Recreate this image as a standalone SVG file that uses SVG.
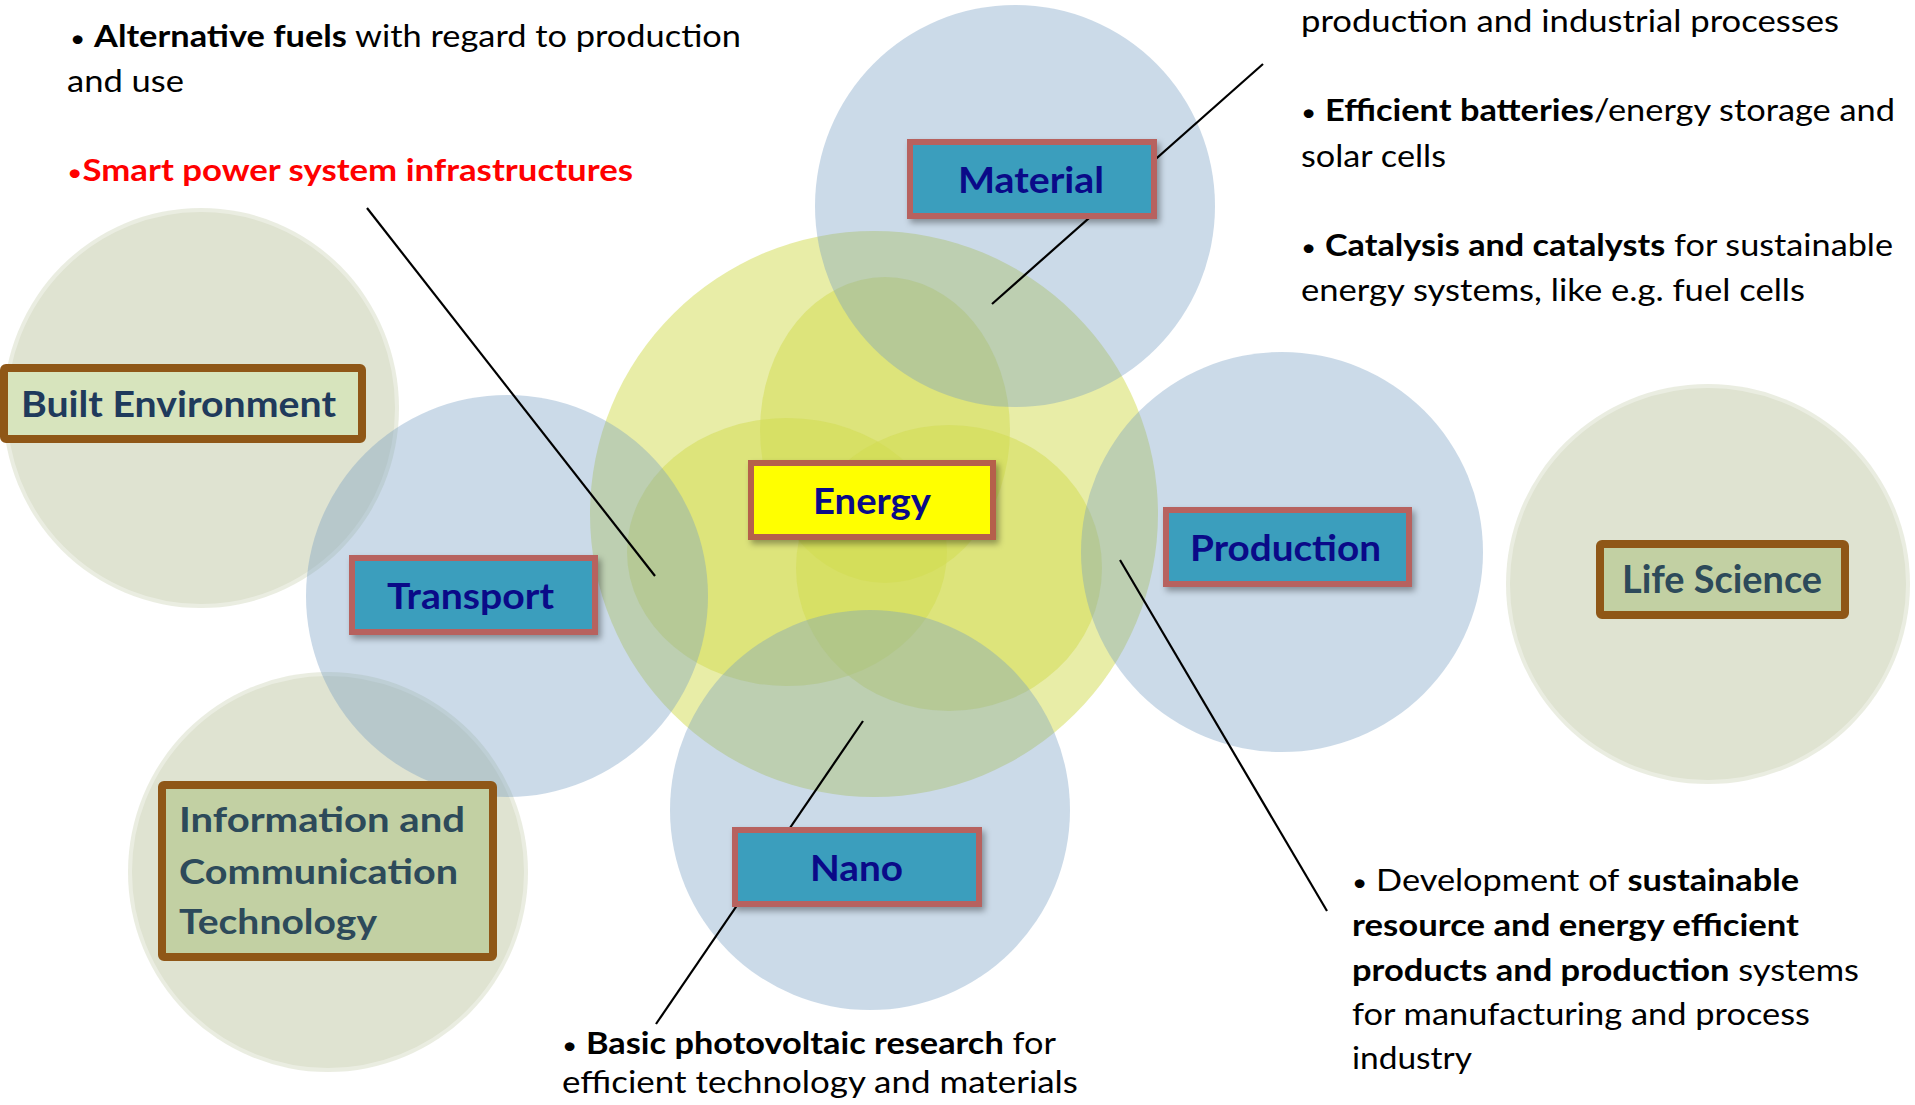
<svg xmlns="http://www.w3.org/2000/svg" width="1915" height="1105" viewBox="0 0 1915 1105">
<defs>
<style>
.green{fill:#afb98c;fill-opacity:0.4;stroke:#ffffff;stroke-opacity:0.35;stroke-width:8}
.blue{fill:#769ec2;fill-opacity:0.38}
.yellow{fill:#d1db4f;fill-opacity:0.5}
.bbox{fill:#3a9ebd;stroke:#b7625e;stroke-width:6}
.ebox{fill:#ffff00;stroke:#b5614c;stroke-width:6}
.gbox{fill:#c2d0a3;stroke:#8f5717;stroke-width:8}
.lbl{font-family:Lato,"Liberation Sans",sans-serif;font-weight:700;fill:#0a0a88;font-size:37px}
.glbl{font-family:Lato,"Liberation Sans",sans-serif;font-weight:700;fill:#2d4a5a;font-size:37px}
.txt{font-family:Lato,"Liberation Sans",sans-serif;font-size:30px;fill:#000}
.b{font-weight:700}
.bul{font-size:23px;font-weight:400}
.conn{stroke:#000;stroke-width:2.2;fill:none}
</style>
<filter id="shadow" x="-20%" y="-30%" width="140%" height="160%">
<feDropShadow dx="3" dy="4" stdDeviation="3" flood-color="#000" flood-opacity="0.35"/>
</filter>
</defs>
<rect width="1915" height="1105" fill="#ffffff"/>

<g id="circles">
<ellipse id="circle-built" class="green" cx="201" cy="408" rx="198" ry="200"/>
<ellipse id="circle-ict" class="green" cx="328" cy="872" rx="200" ry="200"/>
<ellipse id="circle-life" class="green" cx="1708" cy="584" rx="202" ry="200"/>
<ellipse id="circle-energy" class="yellow" cx="874" cy="514" rx="284" ry="283"/>
<ellipse id="circle-energy-a" class="yellow" cx="885" cy="430" rx="125" ry="153"/>
<ellipse id="circle-energy-b" class="yellow" cx="787" cy="552" rx="160" ry="134"/>
<ellipse id="circle-energy-c" class="yellow" cx="949" cy="568" rx="153" ry="143"/>
<ellipse id="circle-material" class="blue" cx="1015" cy="206" rx="200" ry="201"/>
<ellipse id="circle-transport" class="blue" cx="507" cy="596" rx="201" ry="201"/>
<ellipse id="circle-production" class="blue" cx="1282" cy="552" rx="201" ry="200"/>
<ellipse id="circle-nano" class="blue" cx="870" cy="810" rx="200" ry="200"/>
</g>

<g id="connectors">
<line class="conn" x1="367" y1="208" x2="655" y2="576"/>
<line class="conn" x1="1263" y1="64" x2="992" y2="304"/>
<line class="conn" x1="863" y1="721" x2="656" y2="1024"/>
<line class="conn" x1="1120" y1="560" x2="1327" y2="911"/>
</g>

<g id="node-energy">
<rect class="ebox" x="751" y="463" width="242" height="74" filter="url(#shadow)"/>
<text class="lbl" x="813" y="514" textLength="118" lengthAdjust="spacingAndGlyphs">Energy</text>
</g>
<g id="node-material">
<rect class="bbox" x="910" y="142" width="244" height="74" filter="url(#shadow)"/>
<text class="lbl" x="958" y="193" textLength="146" lengthAdjust="spacingAndGlyphs">Material</text>
</g>
<g id="node-transport">
<rect class="bbox" x="352" y="558" width="243" height="74" filter="url(#shadow)"/>
<text class="lbl" x="387" y="609" textLength="167" lengthAdjust="spacingAndGlyphs">Transport</text>
</g>
<g id="node-production">
<rect class="bbox" x="1166" y="510" width="243" height="74" filter="url(#shadow)"/>
<text class="lbl" x="1190" y="561" textLength="191" lengthAdjust="spacingAndGlyphs">Production</text>
</g>
<g id="node-nano">
<rect class="bbox" x="735" y="830" width="244" height="74" filter="url(#shadow)"/>
<text class="lbl" x="810" y="881" textLength="93" lengthAdjust="spacingAndGlyphs">Nano</text>
</g>
<g id="node-built">
<rect class="gbox" x="4" y="368" width="358" height="71" rx="2" style="fill:#d7e4bd"/>
<text class="glbl" x="21" y="417" textLength="315" lengthAdjust="spacingAndGlyphs" style="fill:#1f3a5c;font-size:36px">Built Environment</text>
</g>
<g id="node-ict">
<rect class="gbox" x="162" y="785" width="331" height="172" rx="2"/>
<text class="glbl" style="font-size:35px">
<tspan x="179" y="832" textLength="286" lengthAdjust="spacingAndGlyphs">Information and</tspan>
<tspan x="179" y="884" textLength="279" lengthAdjust="spacingAndGlyphs">Communication</tspan>
<tspan x="179" y="934" textLength="198" lengthAdjust="spacingAndGlyphs">Technology</tspan>
</text>
</g>
<g id="node-life">
<rect class="gbox" x="1600" y="544" width="245" height="71" rx="2"/>
<text class="glbl" x="1622" y="593" textLength="200" lengthAdjust="spacingAndGlyphs" style="font-size:39px">Life Science</text>
</g>

<g id="note-energy-left">
<text class="txt" x="70" y="47" textLength="671" lengthAdjust="spacingAndGlyphs"><tspan class="bul">•</tspan> <tspan class="b">Alternative fuels</tspan> with regard to production</text>
<text class="txt" x="67" y="92" textLength="117" lengthAdjust="spacingAndGlyphs">and use</text>
<text class="txt b" x="67" y="181" textLength="566" lengthAdjust="spacingAndGlyphs" style="fill:#ff0000"><tspan class="bul">•</tspan>Smart power system infrastructures</text>
</g>
<g id="note-material">
<text class="txt" x="1301" y="32" textLength="538" lengthAdjust="spacingAndGlyphs">production and industrial processes</text>
<text class="txt" x="1301" y="121" textLength="594" lengthAdjust="spacingAndGlyphs"><tspan class="bul">•</tspan> <tspan class="b">Efficient batteries</tspan>/energy storage and</text>
<text class="txt" x="1301" y="167" textLength="145" lengthAdjust="spacingAndGlyphs">solar cells</text>
<text class="txt" x="1301" y="256" textLength="592" lengthAdjust="spacingAndGlyphs"><tspan class="bul">•</tspan> <tspan class="b">Catalysis and catalysts</tspan> for sustainable</text>
<text class="txt" x="1301" y="301" textLength="504" lengthAdjust="spacingAndGlyphs">energy systems, like e.g. fuel cells</text>
</g>
<g id="note-production">
<text class="txt" x="1352" y="891" textLength="447" lengthAdjust="spacingAndGlyphs"><tspan class="bul">•</tspan> Development of <tspan class="b">sustainable</tspan></text>
<text class="txt b" x="1352" y="936" textLength="447" lengthAdjust="spacingAndGlyphs">resource and energy efficient</text>
<text class="txt" x="1352" y="981" textLength="507" lengthAdjust="spacingAndGlyphs"><tspan class="b">products and production</tspan> systems</text>
<text class="txt" x="1352" y="1025" textLength="458" lengthAdjust="spacingAndGlyphs">for manufacturing and process</text>
<text class="txt" x="1352" y="1069" textLength="120" lengthAdjust="spacingAndGlyphs">industry</text>
</g>
<g id="note-nano">
<text class="txt" x="562" y="1054" textLength="494" lengthAdjust="spacingAndGlyphs"><tspan class="bul">•</tspan> <tspan class="b">Basic photovoltaic research</tspan> for</text>
<text class="txt" x="562" y="1093" textLength="516" lengthAdjust="spacingAndGlyphs">efficient technology and materials</text>
</g>
</svg>
